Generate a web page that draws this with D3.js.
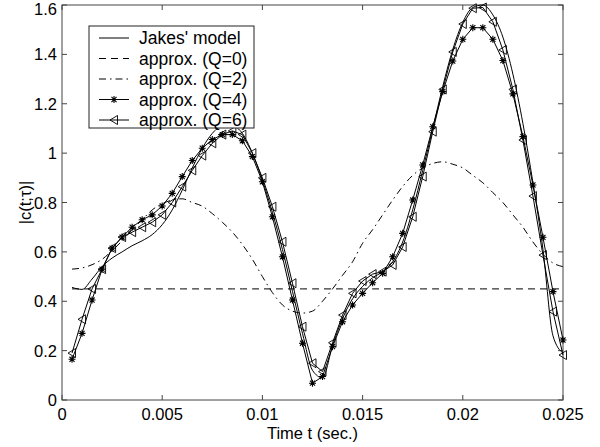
<!DOCTYPE html>
<html>
<head>
<meta charset="utf-8">
<script src="https://cdn.jsdelivr.net/npm/d3@7"></script>
<style>
  body { margin: 0; background: #fff; }
  svg { font-family: "Liberation Sans", Arial, Helvetica, sans-serif; }
</style>
</head>
<body>
<div id="chart"></div>
<script>
// sample times (s), markers every 0.5 ms
let tGrid = d3.range(1, 51).map(k => k * 0.0005);

let jakes = [0.456, 0.448, 0.49, 0.54, 0.575, 0.60, 0.625, 0.645, 0.67, 0.71,
             0.77, 0.85, 0.94, 1.02, 1.08, 1.11, 1.11, 1.08, 1.00, 0.89,
             0.76, 0.61, 0.44, 0.27, 0.12, 0.09, 0.22, 0.33, 0.41, 0.46,
             0.495, 0.52, 0.56, 0.64, 0.77, 0.93, 1.10, 1.27, 1.42, 1.53,
             1.59, 1.60, 1.56, 1.47, 1.32, 1.12, 0.88, 0.61, 0.26, 0.19];

let q0 = tGrid.map(() => 0.45);

let q2 = [0.53, 0.535, 0.548, 0.57, 0.605, 0.645, 0.69, 0.73, 0.77, 0.795,
          0.81, 0.815, 0.80, 0.785, 0.755, 0.72, 0.68, 0.63, 0.57, 0.50,
          0.435, 0.385, 0.36, 0.352, 0.36, 0.40, 0.45, 0.505, 0.56, 0.635,
          0.69, 0.75, 0.81, 0.865, 0.91, 0.94, 0.958, 0.965, 0.955, 0.94,
          0.91, 0.88, 0.84, 0.80, 0.75, 0.70, 0.64, 0.59, 0.555, 0.54];

let q4 = [0.165, 0.27, 0.405, 0.53, 0.615, 0.66, 0.70, 0.73, 0.75, 0.786,
          0.837, 0.905, 0.97, 1.02, 1.055, 1.075, 1.075, 1.05, 0.986, 0.884,
          0.742, 0.58, 0.405, 0.23, 0.068, 0.095, 0.216, 0.317, 0.385, 0.432,
          0.475, 0.513, 0.58, 0.675, 0.81, 0.952, 1.107, 1.249, 1.373, 1.461,
          1.508, 1.508, 1.461, 1.375, 1.24, 1.067, 0.871, 0.659, 0.439, 0.243];

let q6 = [0.19, 0.327, 0.45, 0.53, 0.615, 0.66, 0.68, 0.70, 0.72, 0.75,
          0.80, 0.864, 0.93, 0.99, 1.04, 1.075, 1.09, 1.075, 1.0, 0.90,
          0.783, 0.641, 0.473, 0.297, 0.149, 0.115, 0.232, 0.344, 0.432, 0.482,
          0.51, 0.52, 0.547, 0.62, 0.742, 0.905, 1.087, 1.258, 1.41, 1.523,
          1.587, 1.59, 1.532, 1.418, 1.258, 1.053, 0.826, 0.587, 0.358, 0.182];

let xTicks = [0, 0.005, 0.01, 0.015, 0.02, 0.025];
let yTicks = [0, 0.2, 0.4, 0.6, 0.8, 1, 1.2, 1.4, 1.6];
let legendLabels = ["Jakes' model", "approx. (Q=0)", "approx. (Q=2)", "approx. (Q=4)", "approx. (Q=6)"];

let width = 600, height = 447;
let margin = {left: 62, right: 37, top: 5, bottom: 47};
let axisColor = "#444";

let svg = d3.select("#chart").append("svg")
    .attr("width", width)
    .attr("height", height);

let x = d3.scaleLinear().domain([0, 0.025]).range([margin.left, width - margin.right]);
let y = d3.scaleLinear().domain([0, 1.6]).range([height - margin.bottom, margin.top]);

// plot box
svg.append("rect")
    .attr("x", x(0)).attr("y", y(1.6))
    .attr("width", x(0.025) - x(0)).attr("height", y(0) - y(1.6))
    .attr("fill", "none").attr("stroke", axisColor).attr("stroke-width", 1);

// inward ticks on four sides
let tl = 5;
xTicks.forEach(function (t) {
    svg.append("line").attr("x1", x(t)).attr("x2", x(t)).attr("y1", y(0)).attr("y2", y(0) - tl)
        .attr("stroke", axisColor);
    svg.append("line").attr("x1", x(t)).attr("x2", x(t)).attr("y1", y(1.6)).attr("y2", y(1.6) + tl)
        .attr("stroke", axisColor);
    svg.append("text").attr("x", x(t)).attr("y", y(0) + 20)
        .attr("text-anchor", "middle").attr("font-size", 16.5).text(d3.format("")(t));
});
yTicks.forEach(function (v) {
    svg.append("line").attr("x1", x(0)).attr("x2", x(0) + tl).attr("y1", y(v)).attr("y2", y(v))
        .attr("stroke", axisColor);
    svg.append("line").attr("x1", x(0.025)).attr("x2", x(0.025) - tl).attr("y1", y(v)).attr("y2", y(v))
        .attr("stroke", axisColor);
    // keep the top label inside the page
    svg.append("text").attr("x", x(0) - 5).attr("y", Math.max(y(v) + 6, 15))
        .attr("text-anchor", "end").attr("font-size", 16.5).text(d3.format("")(v));
});

svg.append("text")
    .attr("x", (x(0) + x(0.025)) / 2).attr("y", 439)
    .attr("text-anchor", "middle").attr("font-size", 16.5)
    .text("Time t (sec.)");

svg.append("text")
    .attr("transform", "translate(31," + ((y(0) + y(1.6)) / 2) + ") rotate(-90)")
    .attr("text-anchor", "middle").attr("font-size", 16.5)
    .text("|c(t;τ)|");

let line = d3.line().x(d => x(d[0])).y(d => y(d[1]));
let smooth = d3.line().x(d => x(d[0])).y(d => y(d[1])).curve(d3.curveMonotoneX);

function pairs(vals) { return tGrid.map((t, i) => [t, vals[i]]); }

let series = [
    {vals: jakes, gen: smooth, dash: null, marker: null},
    {vals: q0, gen: line, dash: "7,5", marker: null},
    {vals: q2, gen: smooth, dash: "7,4,1.5,4", marker: null},
    {vals: q4, gen: line, dash: null, marker: "star"},
    {vals: q6, gen: line, dash: null, marker: "tri"}
];

function drawMarker(g, type, cx, cy) {
    if (type === "star") {
        let r = 3.5, d = r * 0.72;
        g.append("path")
            .attr("d", `M${cx - r},${cy}L${cx + r},${cy}M${cx},${cy - r}L${cx},${cy + r}` +
                       `M${cx - d},${cy - d}L${cx + d},${cy + d}M${cx - d},${cy + d}L${cx + d},${cy - d}`)
            .attr("stroke", "#000").attr("stroke-width", 1.1).attr("fill", "none");
    } else if (type === "tri") {
        g.append("path")
            .attr("d", `M${cx - 4},${cy}L${cx + 3.5},${cy - 4.5}L${cx + 3.5},${cy + 4.5}Z`)
            .attr("stroke", "#000").attr("stroke-width", 0.9).attr("fill", "none");
    }
}

let plot = svg.append("g");
series.forEach(function (s) {
    plot.append("path")
        .attr("d", s.gen(pairs(s.vals)))
        .attr("fill", "none").attr("stroke", "#000").attr("stroke-width", 1)
        .attr("stroke-dasharray", s.dash);
    if (s.marker) {
        let mg = plot.append("g");
        tGrid.forEach((t, i) => drawMarker(mg, s.marker, x(t), y(s.vals[i])));
    }
});

// legend
let lg = svg.append("g");
lg.append("rect").attr("x", 89).attr("y", 26).attr("width", 165).attr("height", 102)
    .attr("fill", "#fff").attr("stroke", "#222").attr("stroke-width", 1);
legendLabels.forEach(function (lab, i) {
    let ly = 38 + i * 20.5;
    let s = series[i];
    lg.append("line").attr("x1", 99).attr("x2", 129).attr("y1", ly).attr("y2", ly)
        .attr("stroke", "#000").attr("stroke-width", 1).attr("stroke-dasharray", s.dash);
    if (s.marker) drawMarker(lg, s.marker, 114, ly);
    lg.append("text").attr("x", 139).attr("y", ly + 6).attr("font-size", 17.5).text(lab);
});
</script>
</body>
</html>
